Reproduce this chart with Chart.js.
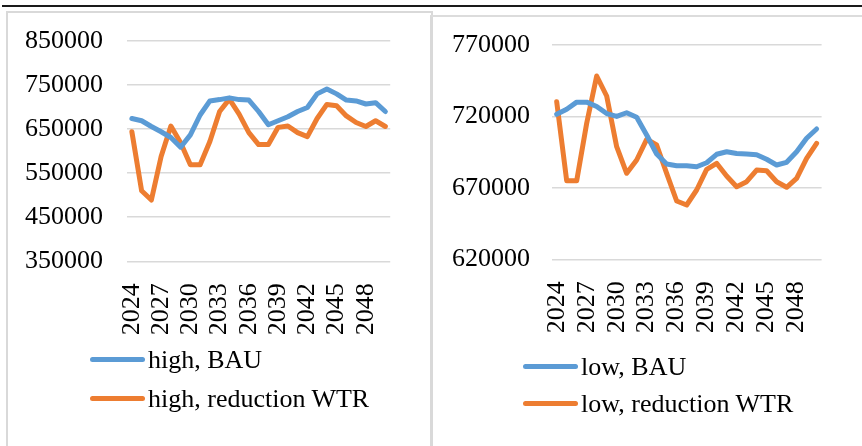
<!DOCTYPE html>
<html>
<head>
<meta charset="utf-8">
<script src="https://cdn.jsdelivr.net/npm/chart.js@4/dist/chart.umd.min.js"></script>
<style>
  html, body { margin: 0; padding: 0; background: #fff; }
  body { width: 862px; height: 446px; position: relative; overflow: hidden; font-family: "Liberation Serif", "Times New Roman", serif; }
  .rule { position: absolute; left: 2px; right: 0; top: 5px; height: 2px; background: #1a1a1a; }
  .box1 { position: absolute; left: 6px; top: 11px; width: 423px; height: 460px; border: 2px solid #d9d9d9; border-bottom: none; }
  .box2 { position: absolute; left: 430px; top: 15px; width: 440px; height: 460px; border-top: 2px solid #dcdcdc; border-left: 2px solid #d9d9d9; }
  canvas { position: absolute; top: 0; }
  #leftChart { left: 0; }
  #rightChart { left: 431px; }
  .legend { position: absolute; font-size: 26px; color: #000; }
  .legend .row { display: flex; align-items: center; line-height: 26px; }
  .legend .swatch { width: 55px; height: 5px; border-radius: 3px; margin-right: 3px; }
</style>
</head>
<body>
<div class="rule"></div>
<div class="box1"></div>
<div class="box2"></div>
<canvas id="leftChart" width="431" height="446"></canvas>
<canvas id="rightChart" width="431" height="446"></canvas>

<div class="legend" id="leftLegend" style="left:90px; top:340px;">
  <div class="row" style="height:39px;"><span class="swatch" style="background:#5b9bd5"></span>high, BAU</div>
  <div class="row" style="height:39px;"><span class="swatch" style="background:#ed7d31"></span>high, reduction WTR</div>
</div>
<div class="legend" id="rightLegend" style="left:523px; top:348px;">
  <div class="row" style="height:37px;"><span class="swatch" style="background:#5b9bd5"></span>low, BAU</div>
  <div class="row" style="height:37px;"><span class="swatch" style="background:#ed7d31"></span>low, reduction WTR</div>
</div>

<script>
// ─── Data ───

var years = [
  "2024", "2025", "2026", "2027", "2028", "2029", "2030", "2031", "2032",
  "2033", "2034", "2035", "2036", "2037", "2038", "2039", "2040", "2041",
  "2042", "2043", "2044", "2045", "2046", "2047", "2048", "2049", "2050"
];

var highBAU = [
  674000, 669000, 656000, 644000, 631000, 609000, 637000, 682000, 714000,
  717000, 721000, 717000, 716000, 690000, 660000, 669000, 678000, 690000,
  699000, 730000, 741000, 730000, 716000, 714000, 707000, 710000, 690000
];
var highWTR = [
  644000, 510000, 489000, 588000, 657000, 619000, 569000, 569000, 622000,
  690000, 718000, 684000, 642000, 615000, 615000, 654000, 657000, 642000,
  633000, 674000, 706000, 703000, 680000, 665000, 656000, 669000, 656000
];

var lowBAU = [
  721500, 725000, 730000, 730000, 727000, 722000, 720000, 722600, 719400,
  707000, 693700, 686700, 685500, 685500, 684800, 687600, 693500, 695300,
  694000, 693700, 693200, 690000, 686000, 687900, 695300, 704700, 711200
];
var lowWTR = [
  730300, 675000, 675000, 715200, 748300, 734300, 698800, 680200, 689500,
  704000, 700000, 680200, 660800, 658000, 668500, 683000, 687200, 678300,
  670800, 674300, 682500, 682000, 674300, 670400, 676700, 690700, 701200
];

var leftTicks = { min: 350000, max: 850000, step: 100000 };
var rightTicks = { min: 620000, max: 770000, step: 50000 };

// ─── Chart Rendering ───

var colors = {
  blue: "#5b9bd5",
  orange: "#ed7d31",
  grid: "#d9d9d9",
};

var tickFont = { family: "'Liberation Serif', 'Times New Roman', serif", size: 26 };

function seriesLine(label, data, color) {
  return {
    label: label,
    data: data,
    borderColor: color,
    backgroundColor: color,
    borderWidth: 5,
    borderCapStyle: "round",
    borderJoinStyle: "round",
    pointRadius: 0,
    tension: 0,
    fill: false,
  };
}

function renderPanel(canvasId, blueLabel, blueData, orangeLabel, orangeData, range, yWidth, yPad, pad) {
  var canvas = document.getElementById(canvasId);
  new Chart(canvas, {
    type: "line",
    data: {
      labels: years,
      datasets: [
        seriesLine(blueLabel, blueData, colors.blue),
        seriesLine(orangeLabel, orangeData, colors.orange),
      ],
    },
    options: {
      responsive: false,
      animation: false,
      events: [],
      layout: { padding: pad },
      plugins: {
        legend: { display: false },
        tooltip: { enabled: false },
      },
      scales: {
        x: {
          offset: true,
          grid: { display: false },
          border: { display: false },
          ticks: {
            autoSkip: false,
            minRotation: 90,
            maxRotation: 90,
            padding: 14,
            color: "#000",
            font: tickFont,
            callback: function (value, index) {
              return index % 3 === 0 ? this.getLabelForValue(value) : "";
            },
          },
          afterFit: function (scale) { scale.height = 80; },
        },
        y: {
          min: range.min,
          max: range.max,
          grid: { color: colors.grid, lineWidth: 1.5, drawTicks: false },
          border: { display: false },
          ticks: {
            stepSize: range.step,
            padding: yPad,
            color: "#000",
            font: tickFont,
            callback: function (value) { return String(value); },
          },
          afterFit: function (scale) { scale.width = yWidth; },
        },
      },
    },
  });
}

renderPanel("leftChart", "high, BAU", highBAU, "high, reduction WTR", highWTR,
  leftTicks, 127, 24, { left: 0, right: 24, top: 41, bottom: 446 - 261.3 - 80 });

renderPanel("rightChart", "low, BAU", lowBAU, "low, reduction WTR", lowWTR,
  rightTicks, 120.7, 21.7, { left: 0, right: 10.3, top: 45, bottom: 446 - 259.3 - 80 });
</script>
</body>
</html>
